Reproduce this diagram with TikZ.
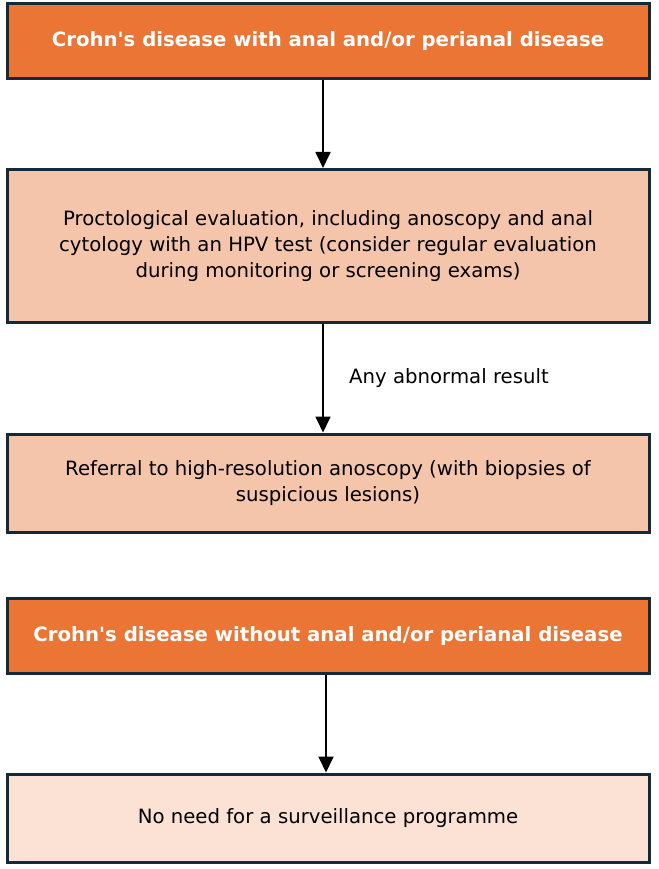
\documentclass[tikz,border=0pt]{standalone}
\usepackage{fontspec}
\setmainfont{DejaVu Sans}
\usetikzlibrary{arrows.meta}
\definecolor{hdr}{HTML}{EA7535}
\definecolor{mid}{HTML}{F5C5AB}
\definecolor{low}{HTML}{FBE2D4}
\definecolor{edge}{HTML}{132A3A}
\begin{document}
\begin{tikzpicture}[x=1pt,y=-1pt,
  box/.style={draw=edge,line width=3pt,minimum width=642pt,align=center,inner sep=0pt,
    font=\fontsize{19.7}{26}\selectfont},
  head/.style={box,fill=hdr,text=white,font=\fontsize{19.7}{26}\selectfont\bfseries},
  arr/.style={-{Triangle[length=16pt,width=15pt]},line width=1.8pt,black}]
\useasboundingbox (0,0) rectangle (658,869);
\node[head,minimum height=75pt] (a) at (328,41) {Crohn\textquotesingle s disease with anal and/or perianal disease};
\node[box,fill=mid,minimum height=153pt] (b) at (328,246) {Proctological evaluation, including anoscopy and anal\\cytology with an HPV test (consider regular evaluation\\during monitoring or screening exams)};
\node[box,fill=mid,minimum height=98pt] (c) at (328,483) {Referral to high-resolution anoscopy (with biopsies of\\suspicious lesions)};
\node[head,minimum height=75pt] (d) at (328,636) {Crohn\textquotesingle s disease without anal and/or perianal disease};
\node[box,fill=low,minimum height=88pt] (e) at (328,818) {No need for a surveillance programme};
\draw[arr] ([xshift=-5pt]a.south) -- ([xshift=-5pt]b.north);
\draw[arr] ([xshift=-5pt]b.south) -- node[right=22pt,font=\fontsize{19.7}{22}\selectfont,black]{Any abnormal result} ([xshift=-5pt]c.north);
\draw[arr] ([xshift=-2pt]d.south) -- ([xshift=-2pt]e.north);
\end{tikzpicture}
\end{document}
